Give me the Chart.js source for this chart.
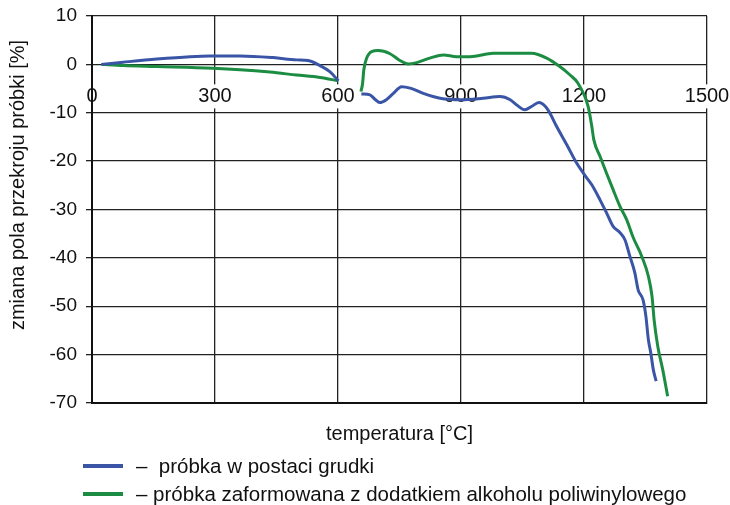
<!DOCTYPE html>
<html>
<head>
<meta charset="utf-8">
<script src="https://cdn.jsdelivr.net/npm/chart.js@4"></script>
<style>
  body { margin: 0; background: #fff; font-family: "Liberation Sans", Arial, sans-serif; }
  #wrap { position: relative; width: 730px; height: 505px; }
  .leg { position: absolute; left: 83px; font-size: 20.5px; color: #111; display: flex; align-items: center; white-space: pre; height: 26px; }
  .leg .sw { display: inline-block; width: 40px; height: 4px; margin-right: 13px; }
</style>
</head>
<body>
<div id="wrap">
  <canvas id="c" width="730" height="505"></canvas>
  <div class="leg" id="leg0" style="top:453px"></div>
  <div class="leg" id="leg1" style="top:481px"></div>
</div>
<script>
// temperatures [°C] and change of cross-section area [%]
const blueT = [23, 76, 158, 239, 288, 361, 442, 499, 527, 556, 580, 601, 630,
  657, 678, 690, 702, 718, 735, 755, 776, 808, 849, 900, 954, 995, 1020, 1036,
  1056, 1072, 1090, 1107, 1117, 1133, 1158, 1182, 1207, 1219, 1239, 1255, 1271,
  1288, 1300, 1312, 1324, 1332, 1344, 1351, 1357, 1363, 1369, 1376];
const blueV = [0, 0.45, 1.1, 1.6, 1.75, 1.75, 1.4, 0.93, 0.8, -0.25, -1.5, -3.4, null,
  -6.1, -6.3, -7.2, -7.9, -7.3, -6.0, -4.6, -4.9, -6.0, -7.0, -7.3, -7.0, -6.65, -7.3, -8.4,
  -9.4, -8.7, -7.9, -8.8, -10.1, -12.8, -16.6, -20.4, -23.5, -24.9, -28.0, -30.7, -33.5,
  -34.8, -36.3, -39.7, -43.1, -46.6, -48.7, -52.1, -56.9, -59.7, -63.1, -65.5];

const greenT = [23, 76, 158, 295, 361, 434, 499, 556, 601, 630,
  656, 660, 663, 670, 682, 698, 727, 751, 771, 792, 824, 857, 889, 922, 979, 1011,
  1072, 1109, 1141, 1166, 1184, 1210, 1219, 1224, 1239, 1255, 1271, 1288, 1304,
  1320, 1341, 1357, 1366, 1371, 1380, 1392, 1404];
const greenV = [0, -0.25, -0.45, -0.8, -1.1, -1.6, -2.2, -2.7, -3.4, null,
  -5.6, -3.9, -1.1, 1.3, 2.65, 2.85, 2.2, 0.8, 0.1, 0.37, 1.3, 1.96, 1.6, 1.6, 2.3, 2.3,
  2.3, 1.3, -0.45, -2.2, -3.75, -8.7, -12.8, -15.6, -19.0, -22.5, -25.9, -29.4, -32.1,
  -35.8, -39.7, -43.8, -48.0, -52.8, -58.3, -63.1, -68.6];

const seriesLabels = ['–  próbka w postaci grudki', '– próbka zaformowana z dodatkiem alkoholu poliwinylowego'];
const seriesColors = ['#3a55a6', '#1b8c42'];
const xTicks = [0, 300, 600, 900, 1200, 1500];
const yTicks = [10, 0, -10, -20, -30, -40, -50, -60, -70];
const xTitle = 'temperatura [°C]';
const yTitle = 'zmiana pola przekroju próbki [%]';

const FONT = '"Liberation Sans", Arial, sans-serif';
const INK = '#111';
const GRID = '#222';

function pts(ts, vs) {
  return ts.map((t, i) => ({ x: t, y: vs[i] }));
}

const yTitlePlugin = {
  id: 'yTitle',
  afterDraw(chart) {
    const ctx = chart.ctx;
    ctx.save();
    ctx.translate(18, 185);
    ctx.rotate(-Math.PI / 2);
    ctx.font = '20px ' + FONT;
    ctx.fillStyle = INK;
    ctx.textAlign = 'center';
    ctx.textBaseline = 'middle';
    ctx.fillText(yTitle, 0, 0);
    ctx.restore();
  }
};

new Chart(document.getElementById('c'), {
  type: 'line',
  data: {
    datasets: [
      { label: seriesLabels[0], data: pts(blueT, blueV), borderColor: seriesColors[0] },
      { label: seriesLabels[1], data: pts(greenT, greenV), borderColor: seriesColors[1] }
    ]
  },
  options: {
    responsive: false,
    animation: false,
    spanGaps: false,
    layout: { padding: { left: 0, right: 23, top: 16, bottom: 51 } },
    elements: {
      line: { borderWidth: 3, tension: 0.3, cubicInterpolationMode: 'monotone', fill: false },
      point: { radius: 0 }
    },
    plugins: { legend: { display: false }, tooltip: { enabled: false } },
    scales: {
      x: {
        type: 'linear', min: 0, max: 1500,
        afterBuildTicks: s => { s.ticks = xTicks.map(v => ({ value: v })); },
        ticks: { display: false },
        grid: { color: GRID, lineWidth: 1.3, drawTicks: false },
        border: { color: INK, width: 2 },
        title: { display: true, text: xTitle, color: INK, font: { family: FONT, size: 20 }, padding: { top: 0, bottom: 8 } },
        afterFit: s => { s.height = 51; }
      },
      xLabels: {
        type: 'linear', min: 0, max: 1500, position: { y: 0 }, z: 1,
        afterBuildTicks: s => { s.ticks = xTicks.map(v => ({ value: v })); },
        afterFit: s => { s.paddingLeft = 0; s.paddingRight = 0; s.paddingTop = 0; s.paddingBottom = 0; },
        grid: { display: false, drawTicks: false },
        border: { display: false },
        ticks: {
          padding: 20, color: INK, font: { family: FONT, size: 20 },
          callback: v => String(v),
          showLabelBackdrop: true, backdropColor: '#fff', backdropPadding: { x: 6, y: 0 }
        }
      },
      y: {
        min: -70, max: 10,
        afterBuildTicks: s => { s.ticks = yTicks.map(v => ({ value: v })); },
        ticks: { padding: 9, color: INK, font: { family: FONT, size: 19 } },
        grid: { color: GRID, lineWidth: 1.3, tickLength: 6 },
        border: { color: INK, width: 2 },
        afterFit: s => { s.width = 92; s.paddingTop = 0; s.paddingBottom = 0; }
      }
    }
  },
  plugins: [yTitlePlugin]
});

seriesLabels.forEach((lab, i) => {
  const el = document.getElementById('leg' + i);
  const sw = document.createElement('span');
  sw.className = 'sw';
  sw.style.background = seriesColors[i];
  el.appendChild(sw);
  el.appendChild(document.createTextNode(lab));
});
</script>
</body>
</html>
